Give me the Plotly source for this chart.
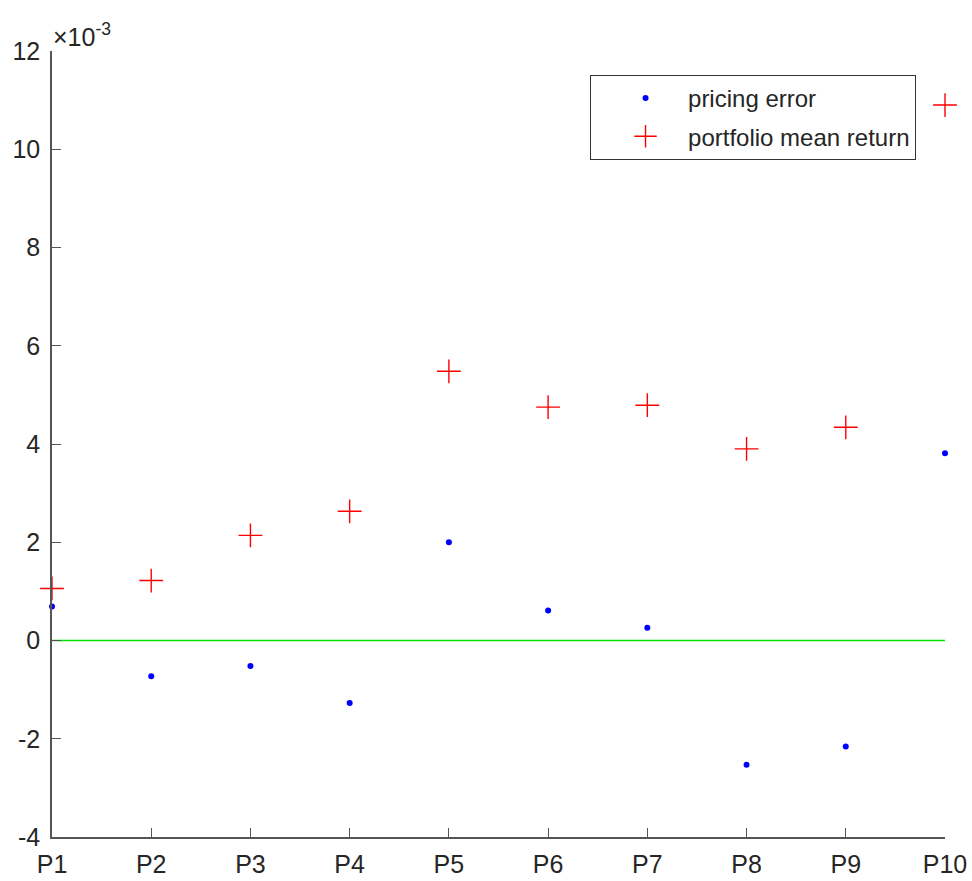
import plotly.graph_objects as go

# Portfolio labels
portfolios = ["P1", "P2", "P3", "P4", "P5", "P6", "P7", "P8", "P9", "P10"]

# Values in units of 1e-3
pricing_error = [0.69, -0.73, -0.52, -1.27, 2.00, 0.61, 0.26, -2.53, -2.16, 3.81]
mean_return = [1.06, 1.22, 2.14, 2.63, 5.48, 4.75, 4.79, 3.90, 4.34, 10.90]
zero_line = [0, 0, 0, 0, 0, 0, 0, 0, 0, 0]

y_tick_vals = [-4, -2, 0, 2, 4, 6, 8, 10, 12]
y_tick_text = ["-4", "-2", "0", "2", "4", "6", "8", "10", "12"]

FONT = "Liberation Sans, Arial, sans-serif"
TXT = "#262626"
AX = "#555555"

fig = go.Figure()

fig.add_trace(go.Scatter(
    x=portfolios, y=zero_line, mode="lines",
    line=dict(color="#00e000", width=1.5),
    showlegend=False, hoverinfo="skip",
))

fig.add_trace(go.Scatter(
    x=portfolios, y=pricing_error, mode="markers",
    name="pricing error", legendgroup="err",
    marker=dict(symbol="circle", size=6, color="#0000ff"),
    cliponaxis=False,
))

fig.add_trace(go.Scatter(
    x=portfolios, y=mean_return, mode="markers",
    name="portfolio mean return", legendgroup="ret",
    marker=dict(symbol="cross-thin", size=17, color="#ff0000",
                line=dict(color="#ff0000", width=1.4)),
    cliponaxis=False,
))

fig.update_layout(
    width=972, height=881,
    margin=dict(l=52, r=27, t=51, b=44),
    paper_bgcolor="white", plot_bgcolor="white",
    font=dict(family=FONT, size=25, color=TXT),
    legend=dict(
        x=0.6025, y=0.9695, xanchor="left", yanchor="top",
        bgcolor="white", bordercolor="#333333", borderwidth=1,
        font=dict(family=FONT, size=24, color=TXT),
        itemwidth=75, indentation=12, tracegroupgap=4,
    ),
    xaxis=dict(
        type="category", range=[0, 9], automargin=False,
        showline=True, linecolor=AX, linewidth=1.5,
        ticks="inside", ticklen=9, tickcolor=AX, tickwidth=1,
        ticklabelstandoff=4,
        showgrid=False, zeroline=False,
        tickfont=dict(family=FONT, size=25, color=TXT),
    ),
    yaxis=dict(
        range=[-4, 12], automargin=False,
        tickvals=y_tick_vals, ticktext=y_tick_text,
        showline=True, linecolor=AX, linewidth=1.5,
        ticks="inside", ticklen=9, tickcolor=AX, tickwidth=1,
        ticklabelstandoff=5,
        showgrid=False, zeroline=False,
        tickfont=dict(family=FONT, size=25, color=TXT),
    ),
    annotations=[dict(
        x=0, y=1, xref="paper", yref="paper",
        xanchor="left", yanchor="bottom", showarrow=False,
        text="×10<sup>-3</sup>",
        font=dict(family=FONT, size=25, color=TXT),
        xshift=-1, yshift=-2,
    )],
)

fig.write_html("out.html")
